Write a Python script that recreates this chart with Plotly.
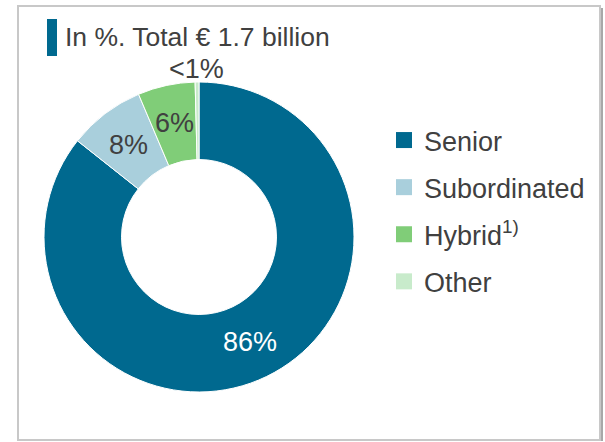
import math
import plotly.graph_objects as go

# data
categories = ["Senior", "Subordinated", "Hybrid<sup>1)</sup>", "Other"]
shares = [86, 8, 6, 0.4]
share_labels = ["86%", "8%", "6%", "<1%"]
label_inside = [True, True, True, False]
title_text = "In %. Total € 1.7 billion"

colors = ["#00698F", "#A9CFDC", "#80CD78", "#C8EBCB"]
text_colors = ["white", "#404040", "#404040", "#404040"]
font_family = "Arial, Liberation Sans, sans-serif"

W, H = 605, 442
CX, CY, R = 199, 237, 155  # donut centre and outer radius in pixels
HOLE = 0.5

def px_x(x):
    return x / W

def px_y(y):
    return 1 - y / H

fig = go.Figure()

fig.add_trace(go.Pie(
    labels=categories,
    values=shares,
    textinfo="none",
    marker=dict(colors=colors, line=dict(color="white", width=1)),
    hole=HOLE,
    sort=False,
    direction="clockwise",
    rotation=0,
    showlegend=False,
    domain=dict(x=[px_x(CX - R), px_x(CX + R)], y=[px_y(CY + R), px_y(CY - R)]),
    hoverinfo="label+percent",
))

# slice labels at the middle angle of each slice (clockwise from 12 o'clock)
total = sum(shares)
acc = 0
for val, lab, inside, tc in zip(shares, share_labels, label_inside, text_colors):
    mid = (acc + val / 2) / total * 2 * math.pi
    acc += val
    rad = R * (1 + HOLE) / 2 if inside else R + 13
    fig.add_annotation(text=lab, xref="paper", yref="paper",
                       x=px_x(CX + rad * math.sin(mid)),
                       y=px_y(CY - rad * math.cos(mid)),
                       xanchor="center", yanchor="middle", showarrow=False,
                       font=dict(family=font_family, size=27, color=tc))

# legend entries as square markers
for name, col in zip(categories, colors):
    fig.add_trace(go.Scatter(
        x=[None], y=[None], mode="markers", name=name,
        marker=dict(symbol="square", size=16, color=col),
        legendgroup=name,
    ))

# frame with a shadow on the right
fig.add_shape(type="rect", xref="paper", yref="paper",
              x0=px_x(599), x1=px_x(603), y0=px_y(441), y1=px_y(8),
              line=dict(width=0), fillcolor="#A8A8A8", layer="below")
fig.add_shape(type="rect", xref="paper", yref="paper",
              x0=px_x(18), x1=px_x(600), y0=px_y(440), y1=px_y(6),
              line=dict(color="#C8C8C8", width=2), fillcolor="white", layer="below")
# title marker bar
fig.add_shape(type="rect", xref="paper", yref="paper",
              x0=px_x(47), x1=px_x(57), y0=px_y(56), y1=px_y(19),
              line=dict(width=0), fillcolor="#00698F")

fig.add_annotation(text=title_text, xref="paper", yref="paper",
                   x=px_x(63), y=px_y(37), xanchor="left", yanchor="middle",
                   showarrow=False,
                   font=dict(family=font_family, size=26.5, color="#404040"))

fig.update_layout(
    width=W, height=H,
    margin=dict(l=0, r=0, t=0, b=0),
    paper_bgcolor="white",
    plot_bgcolor="rgba(0,0,0,0)",
    xaxis=dict(visible=False),
    yaxis=dict(visible=False),
    legend=dict(
        x=px_x(384), y=px_y(211), xanchor="left", yanchor="middle",
        font=dict(family=font_family, size=27, color="#404040"),
        tracegroupgap=9, bgcolor="rgba(0,0,0,0)",
    ),
)

fig.write_html("out.html", config={"displayModeBar": False},
               post_script="document.body.style.margin='0';")
